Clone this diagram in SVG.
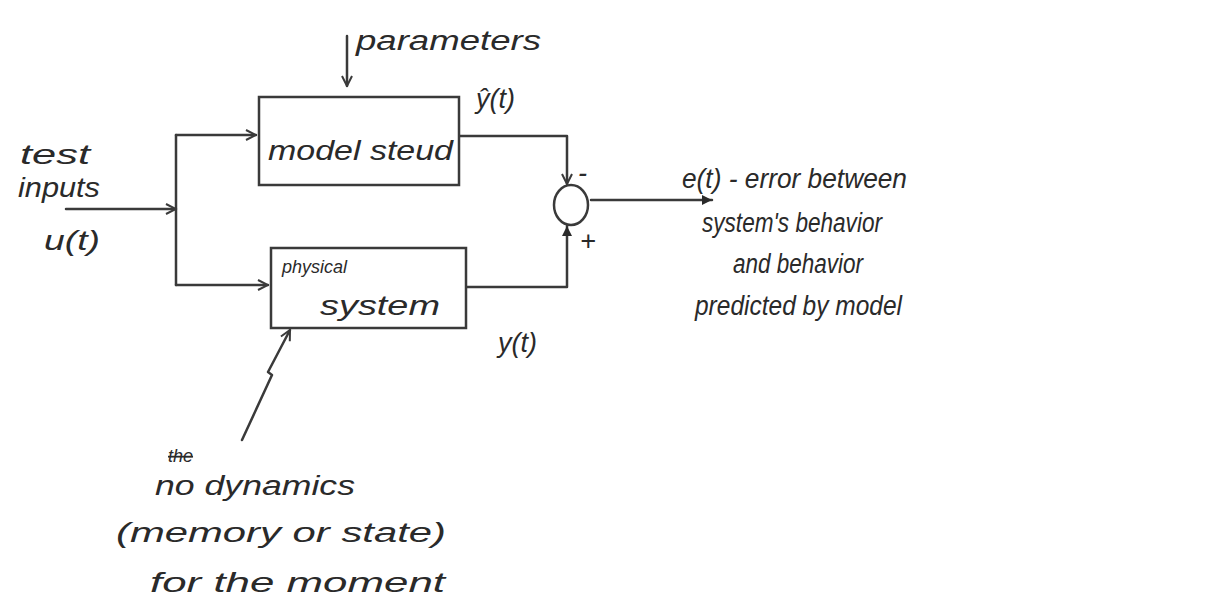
<svg xmlns="http://www.w3.org/2000/svg" width="1223" height="611" viewBox="0 0 1223 611">
<defs>
<style>
.t{font-family:"Liberation Sans",Arial,sans-serif;font-style:italic;font-size:27px;fill:#2a2a2a}
.s{font-family:"Liberation Sans",Arial,sans-serif;font-style:italic;fill:#2a2a2a}
.ln{stroke:#3a3a3a;stroke-width:2.5;fill:none;stroke-linecap:round;stroke-linejoin:round}
.box{stroke:#3a3a3a;stroke-width:2.5;fill:none}
</style>
<marker id="ar" viewBox="0 0 12 12" refX="11" refY="6" markerWidth="12" markerHeight="12" markerUnits="userSpaceOnUse" orient="auto">
<path d="M1,1 L11,6 L1,11" fill="none" stroke="#3a3a3a" stroke-width="2"/>
</marker>
<marker id="af" viewBox="0 0 12 12" refX="11" refY="6" markerWidth="12" markerHeight="12" markerUnits="userSpaceOnUse" orient="auto">
<path d="M1,1 L11,6 L1,11 z" fill="#2a2a2a"/>
</marker>
</defs>
<rect width="1223" height="611" fill="#ffffff"/>
<g id="connectors">
<line class="ln" x1="347" y1="36" x2="347" y2="86" marker-end="url(#ar)"/>
<line class="ln" x1="66" y1="209" x2="176" y2="209" marker-end="url(#ar)"/>
<polyline class="ln" points="176,135 176,285"/>
<line class="ln" x1="176" y1="135" x2="256" y2="135" marker-end="url(#ar)"/>
<line class="ln" x1="176" y1="285" x2="268" y2="285" marker-end="url(#ar)"/>
<polyline class="ln" points="460,136 567,136 567,184" marker-end="url(#ar)"/>
<polyline class="ln" points="467,287 567,287 567,226" marker-end="url(#af)"/>
<line class="ln" x1="591" y1="200" x2="712" y2="200" marker-end="url(#af)"/>
<polyline class="ln" points="242,440 272,375 268,372 290,330" marker-end="url(#ar)"/>
</g>
<g id="param">
<text class="t" x="356" y="50" textLength="185" lengthAdjust="spacingAndGlyphs">parameters</text>
</g>
<g id="model">
<rect class="box" x="259" y="97" width="200" height="88"/>
<text class="t" x="268" y="160" textLength="185" lengthAdjust="spacingAndGlyphs">model steud</text>
<text class="t" x="476" y="108">ŷ(t)</text>
</g>
<g id="physical">
<rect class="box" x="271" y="248" width="195" height="80"/>
<text class="s" x="282" y="273" font-size="18">physical</text>
<text class="t" x="320" y="315" textLength="120" lengthAdjust="spacingAndGlyphs">system</text>
<text class="t" x="498" y="352">y(t)</text>
</g>
<g id="sum">
<ellipse class="ln" cx="571" cy="205" rx="17" ry="20"/>
<text class="t" x="578" y="182">-</text>
<text class="t" x="580" y="250">+</text>
</g>
<g id="input">
<text class="t" x="20" y="164" textLength="70" lengthAdjust="spacingAndGlyphs">test</text>
<text class="t" x="18" y="197" textLength="82" lengthAdjust="spacingAndGlyphs">inputs</text>
<text class="t" x="44" y="250" textLength="56" lengthAdjust="spacingAndGlyphs">u(t)</text>
</g>
<g id="error">
<text class="t" x="682" y="188" font-size="29" textLength="225" lengthAdjust="spacingAndGlyphs">e(t) - error between</text>
<text class="t" x="702" y="232" font-size="29" textLength="180" lengthAdjust="spacingAndGlyphs">system's behavior</text>
<text class="t" x="733" y="273" font-size="29" textLength="130" lengthAdjust="spacingAndGlyphs">and behavior</text>
<text class="t" x="695" y="315" font-size="29" textLength="207" lengthAdjust="spacingAndGlyphs">predicted by model</text>
</g>
<g id="note">
<text class="s" x="168" y="462" font-size="18" text-decoration="line-through">the</text>
<text class="t" x="155" y="495" font-size="30" textLength="200" lengthAdjust="spacingAndGlyphs">no dynamics</text>
<text class="t" x="116" y="542" font-size="32" textLength="330" lengthAdjust="spacingAndGlyphs">(memory or state)</text>
<text class="t" x="150" y="592" font-size="32" textLength="295" lengthAdjust="spacingAndGlyphs">for the moment</text>
</g>
</svg>
